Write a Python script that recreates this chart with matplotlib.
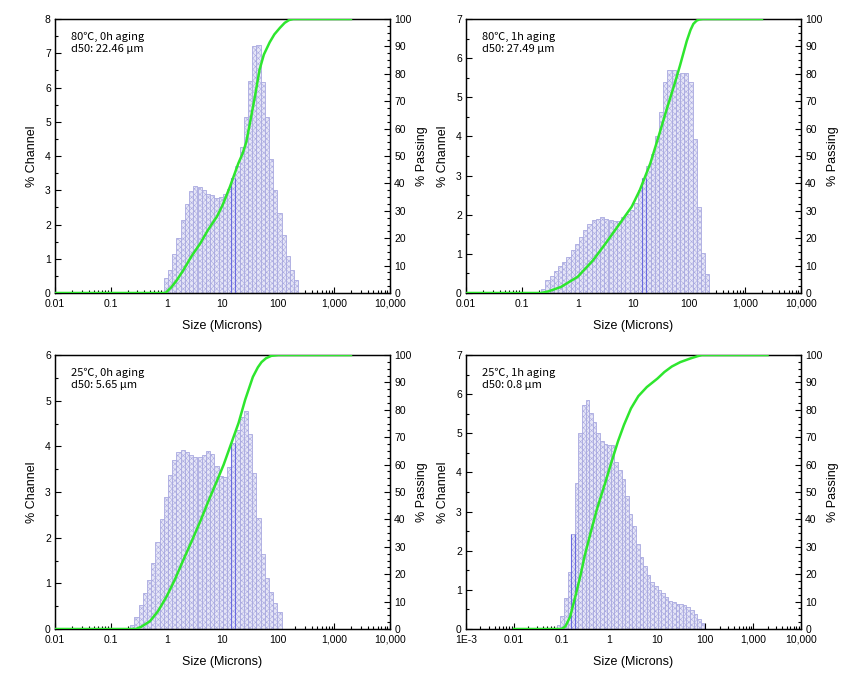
import numpy as np
import matplotlib.pyplot as plt
from matplotlib.ticker import FixedLocator, MultipleLocator, NullFormatter

plt.rcParams['font.family'] = ['Liberation Sans', 'DejaVu Sans']
plt.rcParams['hatch.linewidth'] = 0.4

# analyser channel sizes (um), bars are centred on these
channels = [0.086, 0.102, 0.122, 0.145, 0.172, 0.204, 0.243, 0.289, 0.344, 0.409,
            0.486, 0.578, 0.688, 0.818, 0.972, 1.156, 1.375, 1.635, 1.945, 2.312,
            2.75, 3.27, 3.89, 4.62, 5.5, 6.54, 7.78, 9.25, 11.0, 13.08,
            15.56, 18.5, 22.0, 26.16, 31.11, 37.0, 44.0, 52.33, 62.23, 74.0,
            88.0, 104.7, 124.5, 148.0, 176.0, 209.3]

# % channel per sample, starting at the given channel size
start_80_0h = 0.972
ch_80_0h = [0.45, 0.66, 1.13, 1.62, 2.13, 2.61, 2.98, 3.12, 3.10, 3.00, 2.89, 2.86, 2.78, 2.81,
            2.90, 3.05, 3.37, 3.72, 4.27, 5.13, 6.20, 7.20, 7.25, 6.17, 5.13, 3.90, 3.02, 2.34,
            1.69, 1.08, 0.66, 0.39]

start_80_1h = 0.243
ch_80_1h = [0.11, 0.34, 0.44, 0.56, 0.68, 0.80, 0.92, 1.09, 1.24, 1.43, 1.62, 1.76, 1.86, 1.90,
            1.93, 1.90, 1.86, 1.84, 1.84, 1.93, 2.03, 2.13, 2.29, 2.63, 2.95, 3.25, 3.55, 4.00,
            4.63, 5.40, 5.70, 5.70, 5.60, 5.62, 5.62, 5.38, 3.93, 2.20, 1.03, 0.48]

start_25_0h = 0.243
ch_25_0h = [0.09, 0.27, 0.53, 0.78, 1.07, 1.45, 1.91, 2.41, 2.90, 3.37, 3.69, 3.87, 3.91, 3.87,
            3.80, 3.77, 3.76, 3.82, 3.90, 3.83, 3.58, 3.36, 3.32, 3.55, 4.07, 4.35, 4.65, 4.78,
            4.27, 3.41, 2.44, 1.64, 1.11, 0.80, 0.57, 0.38]

start_25_1h = 0.086
ch_25_1h = [0.10, 0.32, 0.79, 1.45, 2.43, 3.73, 5.01, 5.73, 5.86, 5.53, 5.30, 5.01, 4.81, 4.72,
            4.70, 4.70, 4.27, 4.05, 3.83, 3.39, 2.94, 2.64, 2.17, 1.85, 1.62, 1.38, 1.21, 1.09,
            1.00, 0.92, 0.81, 0.72, 0.68, 0.64, 0.63, 0.61, 0.57, 0.49, 0.38, 0.26, 0.15]

# bar drawn with a darker outline in each plot (channel size)
dark_80_0h = 15.56
dark_80_1h = 15.56
dark_25_0h = 15.56
dark_25_1h = 0.172

# % passing curves (size, percent)
size_80_0h = [0.01, 0.95, 1.2, 1.5, 2.0, 2.8, 4.0, 5.5, 8.0, 10.0, 13.6, 19.2, 23.0, 26.6, 31.0,
              38.0, 46.0, 55.0, 70.0, 85.0, 107.0, 130.0, 155.0, 185.0, 2000.0]
pass_80_0h = [0, 0, 2, 4.5, 8.4, 13.5, 18.1, 23, 28, 32, 38.8, 47.3, 51, 55, 62,
              71.6, 81.4, 87, 91.5, 94.4, 96.8, 98.6, 99.6, 100, 100]

size_80_1h = [0.01, 0.22, 0.3, 0.5, 1.0, 1.9, 3.3, 5.7, 9.3, 13.0, 20.0, 28.0, 39.0, 55.0,
              68.0, 90.0, 105.0, 118.0, 135.0, 150.0, 175.0, 2000.0]
pass_80_1h = [0, 0, 0.6, 2.2, 5.9, 12, 18.6, 25.4, 31.5, 37.6, 47.3, 57, 66.8, 76.6,
              83, 92, 96, 98.2, 99.4, 99.8, 100, 100]

size_25_0h = [0.01, 0.28, 0.35, 0.5, 0.7, 1.0, 1.4, 2.0, 2.8, 4.0, 5.6, 7.9, 10.5, 13.7,
              19.4, 25.5, 35.0, 43.0, 50.0, 60.0, 75.0, 100.0, 2000.0]
pass_25_0h = [0, 0, 0.8, 2.8, 6.5, 11.9, 18, 25.3, 32, 39.3, 46.7, 53.9, 60, 66.6,
              75.2, 83.7, 92, 95.5, 97.4, 98.8, 99.7, 100, 100]

size_25_1h = [0.01, 0.1, 0.12, 0.15, 0.2, 0.25, 0.3, 0.4, 0.55, 0.8, 1.1, 1.5, 2.0, 2.8,
              4.0, 6.0, 10.0, 14.0, 20.0, 30.0, 50.0, 70.0, 85.0, 2000.0]
pass_25_1h = [0, 0, 1, 4.5, 13, 20, 26.5, 35, 44, 53, 61, 68.5, 74.5, 80.5,
              85, 88.3, 91.4, 93.8, 95.8, 97.4, 98.8, 99.6, 100, 100]

labels = ["80℃, 0h aging\nd50: 22.46 μm", "80℃, 1h aging\nd50: 27.49 μm",
          "25℃, 0h aging\nd50: 5.65 μm", "25℃, 1h aging\nd50: 0.8 μm"]
ticks_a = [0.01, 0.1, 1, 10, 100, 1000, 10000]
ticklabels_a = ["0.01", "0.1", "1", "10", "100", "1,000", "10,000"]
ticks_b = [0.001, 0.01, 0.1, 1, 10, 100, 1000, 10000]
ticklabels_b = ["1E-3", "0.01", "0.1", "1", "10", "100", "1,000", "10,000"]

GREEN = '#2ee62e'
FACE = '#e6e6f7'
EDGE = '#a9a9e0'
DARK = '#6a6ae0'


def draw(rect, start, heights, dark, sx, sy, ymax, ticks, ticklabels, label):
    ax = fig.add_axes(rect)
    i0 = channels.index(start)
    c = np.array(channels[i0:i0 + len(heights)])
    left = c * 2 ** (-1 / 8)
    width = c * (2 ** (1 / 8) - 2 ** (-1 / 8))
    ax.bar(left, heights, width=width, align='edge', color=FACE,
           edgecolor=EDGE, linewidth=0.6, hatch='xxxxxx', zorder=2)
    k = list(c).index(dark)
    ax.vlines([left[k], left[k] + width[k]], 0, heights[k], color=DARK,
              linewidth=0.8, zorder=3)
    ax.set_xscale('log')
    ax.set_xlim(ticks[0], ticks[-1])
    ax.set_ylim(0, ymax)
    ax.xaxis.set_major_locator(FixedLocator(ticks))
    ax.set_xticklabels(ticklabels)
    minors = [m * 10.0 ** e for e in range(-3, 4) for m in range(2, 10)]
    ax.xaxis.set_minor_locator(FixedLocator(minors))
    ax.xaxis.set_minor_formatter(NullFormatter())
    ax.yaxis.set_major_locator(MultipleLocator(1))
    ax.yaxis.set_minor_locator(MultipleLocator(0.5))
    ax.tick_params(which='both', direction='in', labelsize=7.5, width=0.8)
    ax.tick_params(which='major', length=4, pad=3)
    ax.tick_params(which='minor', length=2.5)
    ax.tick_params(axis='x', which='major', pad=4)
    ax.tick_params(axis='y', which='both', left=True, right=False)
    ax.set_xlabel("Size (Microns)", fontsize=9, labelpad=8)
    ax.set_ylabel("% Channel", fontsize=9, labelpad=5)
    ax.text(0.048, 0.955, label, transform=ax.transAxes, va='top', ha='left',
            fontsize=8, linespacing=1.25, family=['Noto Sans CJK KR', 'DejaVu Sans'])

    ax2 = ax.twinx()
    ax2.plot(sx, sy, color=GREEN, linewidth=1.8, zorder=4)
    ax2.set_ylim(0, 100)
    ax2.yaxis.set_major_locator(MultipleLocator(10))
    ax2.yaxis.set_minor_locator(MultipleLocator(2.5))
    ax2.tick_params(which='both', direction='in', labelsize=7.5, width=0.8)
    ax2.tick_params(which='major', length=4, pad=3)
    ax2.tick_params(which='minor', length=2.5)
    ax2.set_ylabel("% Passing", fontsize=9, labelpad=3)
    for a in (ax, ax2):
        for s in a.spines.values():
            s.set_linewidth(0.9)


fig = plt.figure(figsize=(8.58, 6.76), dpi=100)
W, H = 858, 676


def rect(x0, x1, y0, y1):
    return [x0 / W, 1 - y1 / H, (x1 - x0) / W, (y1 - y0) / H]


draw(rect(55, 390, 19, 293), start_80_0h, ch_80_0h, dark_80_0h, size_80_0h, pass_80_0h,
     8, ticks_a, ticklabels_a, labels[0])
draw(rect(466, 801, 19, 293), start_80_1h, ch_80_1h, dark_80_1h, size_80_1h, pass_80_1h,
     7, ticks_a, ticklabels_a, labels[1])
draw(rect(55, 390, 355, 629), start_25_0h, ch_25_0h, dark_25_0h, size_25_0h, pass_25_0h,
     6, ticks_a, ticklabels_a, labels[2])
draw(rect(466, 801, 355, 629), start_25_1h, ch_25_1h, dark_25_1h, size_25_1h, pass_25_1h,
     7, ticks_b, ticklabels_b, labels[3])

fig.savefig("out.png", dpi=100)
